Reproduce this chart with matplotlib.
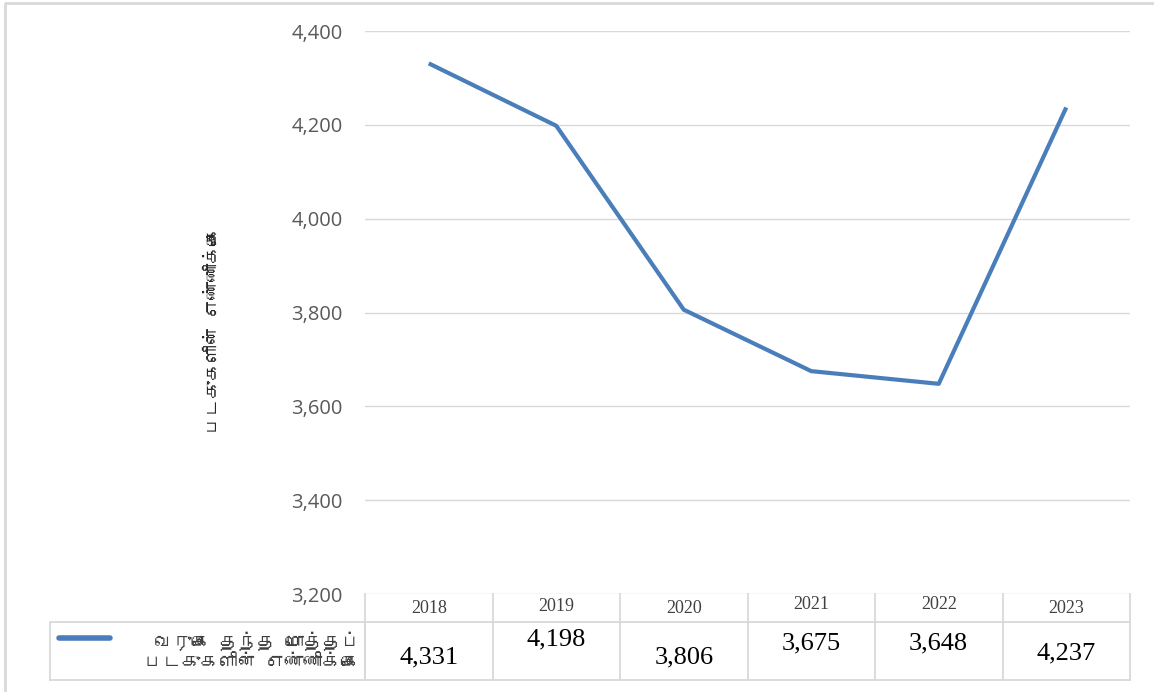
import matplotlib
matplotlib.use("Agg")
import matplotlib.pyplot as plt
from matplotlib import font_manager
from matplotlib.ft2font import FT2Font
from matplotlib.transforms import blended_transform_factory
from matplotlib.lines import Line2D
from matplotlib.ticker import FuncFormatter

# data
years = ["2018", "2019", "2020", "2021", "2022", "2023"]
boats = [4331, 4198, 3806, 3675, 3648, 4237]
series_name = "வருகை தந்த மொத்தப்\nபடகுகளின் எண்ணிக்கை"
y_title = "படகுகளின் எண்ணிக்கை"

# layout of the pasted value labels (they sit unevenly in the reference)
value_y = [-0.112, -0.080, -0.112, -0.088, -0.088, -0.106]
year_y = [-0.026, -0.022, -0.026, -0.018, -0.018, -0.026]


def find_tamil_font():
    # look for any installed font that covers the Tamil block
    for f in font_manager.fontManager.ttflist:
        try:
            if 0x0B95 in FT2Font(f.fname).get_charmap():
                return f.name
        except Exception:
            pass
    return None


tamil = find_tamil_font()
tamil_family = [tamil, "DejaVu Sans"] if tamil else ["DejaVu Sans"]

blue = "#4a7ebb"
grid_col = "#d9d9d9"

fig = plt.figure(figsize=(11.54, 6.92), dpi=100)
ax = fig.add_axes([365 / 1154, 1 - 594 / 692, 765 / 1154, 563 / 692])

x = list(range(len(years)))
ax.plot(x, boats, color=blue, lw=3, solid_capstyle="butt")

ax.set_xlim(-0.5, len(years) - 0.5)
ax.set_ylim(3200, 4400)
ax.set_yticks(range(3200, 4401, 200))
ax.yaxis.set_major_formatter(FuncFormatter(lambda v, p: f"{int(v):,}"))
ax.tick_params(axis="y", length=0, pad=16, labelsize=14.5, labelcolor="#595959")
for lab in ax.get_yticklabels():
    lab.set_family("Open Sans")
ax.set_xticks([])
ax.grid(axis="y", color=grid_col, lw=1)
ax.set_axisbelow(True)
for s in ax.spines.values():
    s.set_visible(False)

fig.text(213 / 1154, 1 - 330 / 692, y_title, rotation=90, ha="center", va="center",
         fontsize=13, color="#262626", family=tamil_family, fontweight="bold")

# data table under the plot
tr = blended_transform_factory(ax.transData, ax.transAxes)
row1 = -28 / 563
row2 = -86 / 563
bounds = [i - 0.5 for i in range(len(years) + 1)]
for b in bounds:
    ax.add_line(Line2D([b, b], [0, row2], transform=tr, color=grid_col, lw=1.3, clip_on=False))
ax.add_line(Line2D([-0.5, len(years) - 0.5], [row1, row1], transform=tr, color=grid_col,
                   lw=1.3, clip_on=False))
ax.add_line(Line2D([-0.5, len(years) - 0.5], [row2, row2], transform=tr, color=grid_col,
                   lw=1.3, clip_on=False))

for i, (yr, v) in enumerate(zip(years, boats)):
    ax.text(i, year_y[i], yr, transform=tr, ha="center", va="center", fontsize=13,
            color="#404040", family="Liberation Serif", clip_on=False)
    ax.text(i, value_y[i], f"{v:,}", transform=tr, ha="center", va="center", fontsize=19,
            color="black", family="Liberation Serif", clip_on=False)

# legend cell on the left of the table
lx0 = 50 / 1154
lx1 = 365 / 1154
ly0 = 1 - 680 / 692
ly1 = 1 - 622 / 692
fig.add_artist(Line2D([lx0, lx1, lx1, lx0, lx0], [ly0, ly0, ly1, ly1, ly0],
                      transform=fig.transFigure, color=grid_col, lw=1.3))
fig.add_artist(Line2D([59 / 1154, 110 / 1154], [1 - 638 / 692, 1 - 638 / 692],
                      transform=fig.transFigure, color=blue, lw=4, solid_capstyle="round"))
fig.text(360 / 1154, 1 - 651 / 692, series_name, ha="right", va="center", fontsize=13.5,
         color="#404040", family=tamil_family, linespacing=1.1)

# outer frame (top and left edges visible)
fig.add_artist(Line2D([5 / 1154, 5 / 1154, 1.0], [0.0, 1 - 3 / 692, 1 - 3 / 692],
                      transform=fig.transFigure, color=grid_col, lw=2))

fig.savefig("out.png", dpi=100)
